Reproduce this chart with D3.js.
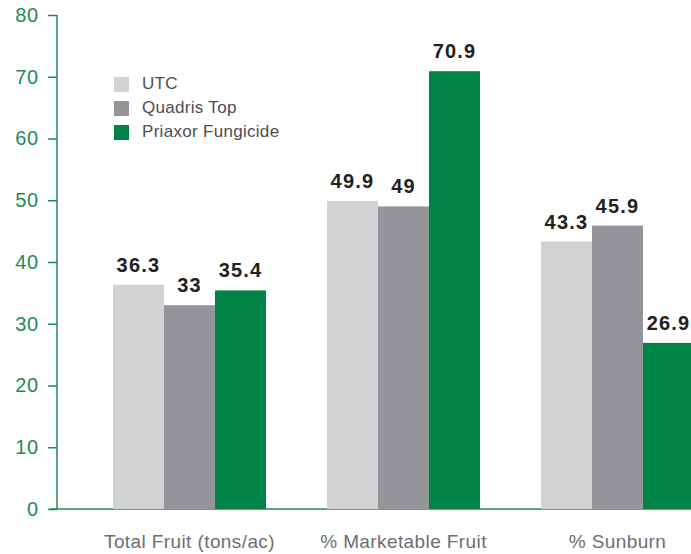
<!DOCTYPE html>
<html>
<head>
<meta charset="utf-8">
<script src="https://cdn.jsdelivr.net/npm/d3@7"></script>
<style>
  body { margin: 0; background: #fff; }
  svg { display: block; font-family: "Liberation Sans", Arial, sans-serif; }
</style>
</head>
<body>
<svg id="chart" width="691" height="554"></svg>
<script>
// chart data
const categories = ["Total Fruit (tons/ac)", "% Marketable Fruit", "% Sunburn"];
const seriesNames = ["UTC", "Quadris Top", "Priaxor Fungicide"];
const utc = [36.3, 49.9, 43.3];
const quadris = [33, 49, 45.9];
const priaxor = [35.4, 70.9, 26.9];
const yTicks = [0, 10, 20, 30, 40, 50, 60, 70, 80];

const colors = ["#d1d2d4", "#939598", "#008346"];
const axisColor = "#1f8a56";

const svg = d3.select("#chart");
const width = +svg.attr("width");

const seriesValues = [utc, quadris, priaxor];
const data = categories.map((c, i) => ({
  category: c,
  values: seriesNames.map((s, j) => ({ series: s, value: seriesValues[j][i], idx: j }))
}));

const yScale = d3.scaleLinear().domain([0, 80]).range([509, 15]);

const xScale = d3.scaleBand()
  .domain(categories)
  .range([82.5, 724.5])
  .paddingInner(0.285)
  .paddingOuter(0.1425);

const xInner = d3.scaleBand()
  .domain(seriesNames)
  .range([0, xScale.bandwidth()]);

// axes
const yAxis = svg.append("g")
  .attr("transform", "translate(57,0)")
  .call(d3.axisLeft(yScale).tickValues(yTicks).tickSize(9).tickPadding(9));
yAxis.select(".domain").attr("stroke", axisColor).attr("stroke-width", 1.5)
  .attr("d", `M0,${yScale(80)}V${yScale(0)}`);
yAxis.selectAll(".tick line").attr("stroke", axisColor).attr("stroke-width", 1.5);
yAxis.selectAll(".tick text")
  .attr("fill", axisColor)
  .style("font-size", "20px")
  .style("letter-spacing", "0.8px");

svg.append("line")
  .attr("x1", 50).attr("x2", width)
  .attr("y1", yScale(0)).attr("y2", yScale(0))
  .attr("stroke", axisColor).attr("stroke-width", 1.5);

// bars
const groups = svg.selectAll(".group")
  .data(data)
  .enter()
  .append("g")
  .attr("class", "group")
  .attr("transform", d => `translate(${xScale(d.category)},0)`);

groups.selectAll("rect")
  .data(d => d.values)
  .enter()
  .append("rect")
  .attr("x", d => xInner(d.series))
  .attr("y", d => yScale(d.value))
  .attr("width", xInner.bandwidth())
  .attr("height", d => yScale(0) - yScale(d.value))
  .attr("fill", d => colors[d.idx]);

groups.selectAll(".val")
  .data(d => d.values)
  .enter()
  .append("text")
  .attr("class", "val")
  .attr("x", d => xInner(d.series) + xInner.bandwidth() / 2)
  .attr("y", d => yScale(d.value) - 13)
  .attr("text-anchor", "middle")
  .attr("fill", "#231f20")
  .style("font-size", "20px")
  .style("font-weight", "bold")
  .style("letter-spacing", "1.2px")
  .text(d => d.value);

// category labels
svg.selectAll(".cat")
  .data(categories)
  .enter()
  .append("text")
  .attr("class", "cat")
  .attr("x", d => xScale(d) + xScale.bandwidth() / 2)
  .attr("y", 548)
  .attr("text-anchor", "middle")
  .attr("fill", "#6d6e71")
  .style("font-size", "19px")
  .style("letter-spacing", "0.4px")
  .text(d => d);

// legend
const legend = svg.append("g").attr("transform", "translate(114,77)");
const items = legend.selectAll(".item")
  .data(seriesNames)
  .enter()
  .append("g")
  .attr("transform", (d, i) => `translate(0,${i * 24})`);
items.append("rect")
  .attr("width", 15).attr("height", 15)
  .attr("fill", (d, i) => colors[i]);
items.append("text")
  .attr("x", 28).attr("y", 8)
  .attr("dominant-baseline", "middle")
  .attr("fill", "#4d4d4f")
  .style("font-size", "17px")
  .style("letter-spacing", "0.3px")
  .text(d => d);
</script>
</body>
</html>
